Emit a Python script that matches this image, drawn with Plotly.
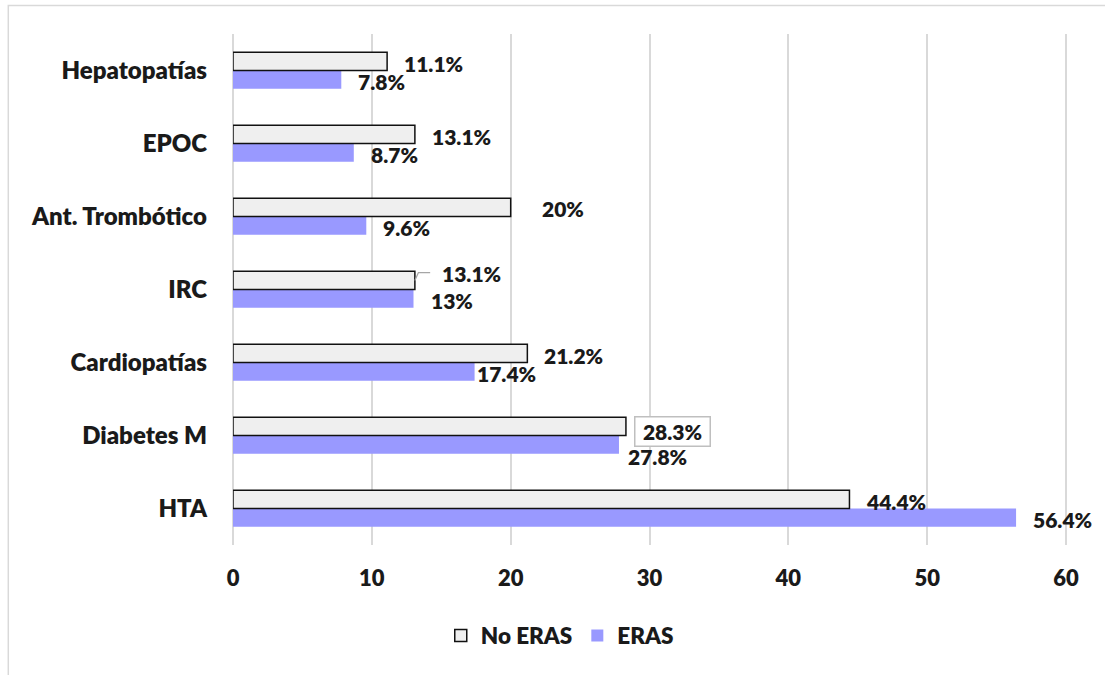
import plotly.graph_objects as go

# Comorbidity categories (bottom to top) and percentages per group
categories = ["HTA", "Diabetes M", "Cardiopatías", "IRC", "Ant. Trombótico", "EPOC", "Hepatopatías"]
no_eras = [44.4, 28.3, 21.2, 13.1, 20, 13.1, 11.1]
eras = [56.4, 27.8, 17.4, 13, 9.6, 8.7, 7.8]
no_eras_labels = ["44.4%", "28.3%", "21.2%", "13.1%", "20%", "13.1%", "11.1%"]
eras_labels = ["56.4%", "27.8%", "17.4%", "13%", "9.6%", "8.7%", "7.8%"]
x_ticks = [0, 10, 20, 30, 40, 50, 60]

FONT = "Lato"
WEIGHT = 800
TXT = "#1a1a1a"
GRID = "#d9d9d9"
LABEL_SIZE = 21

fig = go.Figure()

# ERAS is drawn first so that it sits below No ERAS inside each group
fig.add_trace(go.Bar(
    name="ERAS", y=categories, x=eras, orientation="h",
    marker=dict(color="#9999ff", line=dict(width=0)),
))
fig.add_trace(go.Bar(
    name="No ERAS", y=categories, x=no_eras, orientation="h",
    marker=dict(color="#efefef", line=dict(color="#111111", width=1.5)),
))

# Value labels beside each bar: default offsets, with a few adjusted ones
bar_half = 0.125
default_shift = dict(xshift=15, yshift=-2)
no_eras_shift = {"Ant. Trombótico": dict(xshift=29, yshift=-1),
                 "IRC": dict(xshift=25, yshift=7),
                 "Diabetes M": dict(xshift=8, yshift=-5)}
eras_shift = {"Cardiopatías": dict(xshift=0, yshift=-2),
              "Diabetes M": dict(xshift=7, yshift=-12)}

for i, cat in enumerate(categories):
    s = {**default_shift, **no_eras_shift.get(cat, {})}
    extra = {}
    if cat == "Diabetes M":
        extra = dict(bordercolor="#bfbfbf", borderwidth=1.5, borderpad=1, bgcolor="white",
                     width=72, height=26)
    fig.add_annotation(x=no_eras[i], y=i + bar_half, xref="x", yref="y",
                       text=no_eras_labels[i], showarrow=False, xanchor="left",
                       yanchor="middle", font=dict(family=FONT, size=LABEL_SIZE, color=TXT, weight=WEIGHT),
                       **s, **extra)
    s = {**default_shift, **eras_shift.get(cat, {})}
    fig.add_annotation(x=eras[i], y=i - bar_half, xref="x", yref="y",
                       text=eras_labels[i], showarrow=False, xanchor="left",
                       yanchor="middle", font=dict(family=FONT, size=LABEL_SIZE, color=TXT, weight=WEIGHT),
                       **s)

# Leader line for the IRC No ERAS label
irc = categories.index("IRC")
irc_val = no_eras[irc]
y0 = irc + bar_half
y1 = y0 + 0.105
fig.add_shape(type="path", xref="x", yref="y",
              path=f"M {irc_val},{y0} L {irc_val + 0.25},{y1} L {irc_val + 1.1},{y1}",
              line=dict(color="#a6a6a6", width=1.2))

# Outer chart frame (left and top edges visible)
fig.add_shape(type="rect", xref="paper", yref="paper",
              x0=-0.2675, x1=1.3, y0=-0.6, y1=1.0558,
              line=dict(color=GRID, width=1.5), layer="below")

fig.update_layout(
    width=1105, height=675,
    margin=dict(l=233, r=32, t=34, b=130),
    paper_bgcolor="white", plot_bgcolor="white",
    barmode="group", bargap=0.5, bargroupgap=0,
    font=dict(family=FONT, color=TXT),
    showlegend=True,
    legend=dict(orientation="h", traceorder="reversed",
                x=0.389, xanchor="center", y=-0.178, yanchor="middle",
                font=dict(family=FONT, size=22.5, color=TXT, weight=WEIGHT),
                itemwidth=30),
    xaxis=dict(range=[0, 60.5], tickvals=x_ticks, showgrid=True, gridcolor=GRID, gridwidth=1.5,
               zeroline=True, zerolinecolor=GRID, zerolinewidth=1.5,
               showline=False, ticks="", ticklabelstandoff=18,
               tickfont=dict(family=FONT, size=22, color=TXT, weight=WEIGHT)),
    yaxis=dict(type="category", categoryorder="array", categoryarray=categories,
               range=[-0.5, 6.5], showgrid=False, showline=False, ticks="",
               ticklabelstandoff=25,
               tickfont=dict(family=FONT, size=24, color=TXT, weight=WEIGHT)),
)

fig.write_html("out.html")
